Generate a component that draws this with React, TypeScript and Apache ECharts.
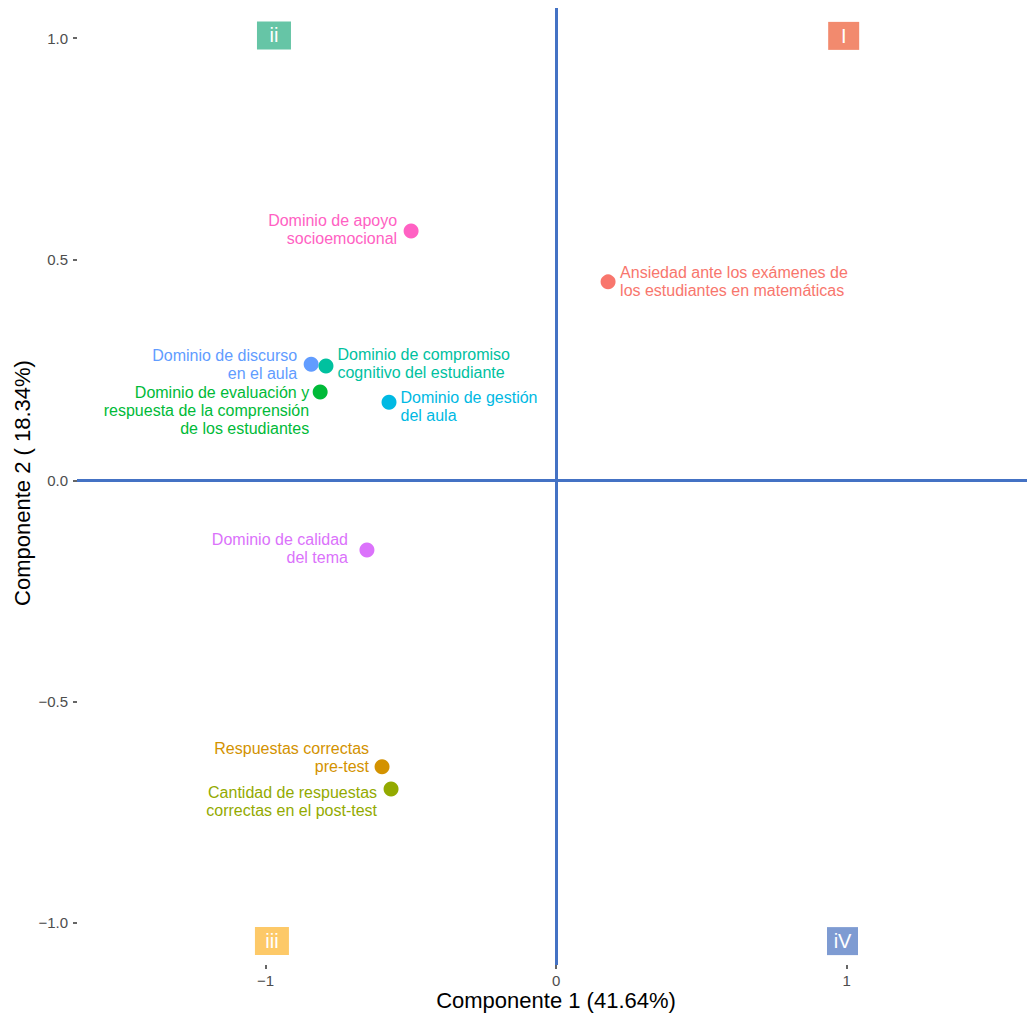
import React, { useEffect, useRef } from "react";
import * as echarts from "echarts";

// ---- data ----
const variables = [
  "Ansiedad ante los exámenes de\nlos estudiantes en matemáticas",
  "Dominio de apoyo\nsocioemocional",
  "Dominio de discurso\nen el aula",
  "Dominio de compromiso\ncognitivo del estudiante",
  "Dominio de evaluación y\nrespuesta de la comprensión\nde los estudiantes",
  "Dominio de gestión\ndel aula",
  "Dominio de calidad\ndel tema",
  "Respuestas correctas\npre-test",
  "Cantidad de respuestas\ncorrectas en el post-test",
];
const comp1 = [0.179, -0.499, -0.843, -0.792, -0.812, -0.575, -0.651, -0.599, -0.568];
const comp2 = [0.449, 0.564, 0.263, 0.259, 0.2, 0.177, -0.157, -0.647, -0.697];

const quadrantNames = ["I", "ii", "iii", "iV"];
const quadrantX = [0.99, -0.971, -0.978, 0.986];
const quadrantY = [1.005, 1.006, -1.041, -1.041];

const yTicks = [-1, -0.5, 0, 0.5, 1];
const xTicks = [-1, 0, 1];

// ---- styles / layout ----
const pointColors = [
  "#F8766D", "#FF61C3", "#619CFF", "#00C19F", "#00BA38",
  "#00B9E3", "#DB72FB", "#D39200", "#93AA00",
];
// side, distance from symbol edge, vertical offset
const labelSide = ["right", "left", "left", "right", "left", "right", "left", "left", "left"];
const labelDist = [4.5, 6.5, 6.5, 4, 3.5, 4, 11.5, 5.5, 6.5];
const labelDy = [0, -1, 0, -2, 18, 4.5, -1.5, -9, 12.5];

const quadColors = ["#F28A6E", "#66C5A6", "#FDC968", "#7E9BD2"];
const quadWidths = [31, 34, 34, 31];

const FONT = "'Liberation Sans', Arial, Helvetica, sans-serif";
const minus = (s: string) => s.replace("-", "\u2212");

export default function App() {
  const ref = useRef<HTMLDivElement>(null);
  useEffect(() => {
    if (!ref.current) return;
    const chart = echarts.init(ref.current, null, { renderer: "svg" });
    const pts = variables.map((name, i) => ({
      name,
      value: [comp1[i], comp2[i]],
      itemStyle: { color: pointColors[i], opacity: 1 },
      label: {
        show: true,
        formatter: name,
        position: labelSide[i],
        distance: labelDist[i],
        offset: [0, labelDy[i]],
        align: labelSide[i] === "left" ? "right" : "left",
        color: pointColors[i],
        fontSize: 16,
        lineHeight: 18,
        fontFamily: FONT,
      },
    }));
    const quads = quadrantNames.map((n, i) => ({
      name: n,
      value: [quadrantX[i], quadrantY[i]],
      symbolSize: [quadWidths[i], 28],
      itemStyle: { color: quadColors[i], opacity: 1 },
    }));
    chart.setOption({
      animation: false,
      backgroundColor: "#ffffff",
      grid: { left: 77, right: 0, top: 8, bottom: 50 },
      xAxis: {
        type: "value",
        min: -1.649,
        max: 1.621,
        splitLine: { show: false },
        axisLine: { show: false, onZero: false },
        axisTick: { show: true, length: 4, customValues: xTicks, lineStyle: { color: "#333333", width: 1.5 } },
        axisLabel: {
          customValues: xTicks,
          formatter: (v: number) => minus(String(v)),
          color: "#4D4D4D",
          fontSize: 15,
          fontFamily: FONT,
          margin: 8,
        },
      },
      yAxis: {
        type: "value",
        min: -1.095,
        max: 1.068,
        splitLine: { show: false },
        axisLine: { show: false, onZero: false },
        axisTick: { show: true, length: 4, customValues: yTicks, lineStyle: { color: "#333333", width: 1.5 } },
        axisLabel: {
          customValues: yTicks,
          formatter: (v: number) => minus(v.toFixed(1)),
          color: "#4D4D4D",
          fontSize: 15,
          fontFamily: FONT,
          margin: 9,
        },
      },
      graphic: [
        {
          type: "text",
          x: 556,
          y: 1000,
          style: {
            text: "Componente 1 (41.64%)",
            font: `22px ${FONT}`,
            fill: "#000000",
            align: "center",
            verticalAlign: "middle",
          },
        },
        {
          type: "text",
          x: 22,
          y: 483,
          rotation: Math.PI / 2,
          style: {
            text: "Componente 2 ( 18.34%)",
            font: `22px ${FONT}`,
            fill: "#000000",
            align: "center",
            verticalAlign: "middle",
          },
        },
      ],
      series: [
        {
          type: "scatter",
          symbolSize: 15,
          data: pts,
          z: 3,
          markLine: {
            silent: true,
            symbol: "none",
            label: { show: false },
            lineStyle: { color: "#4472C4", width: 3, type: "solid" },
            data: [{ xAxis: 0 }, { yAxis: 0 }],
          },
        },
        {
          type: "scatter",
          symbol: "rect",
          data: quads,
          z: 4,
          label: {
            show: true,
            position: "inside",
            formatter: "{b}",
            color: "#ffffff",
            fontSize: 20,
            fontFamily: FONT,
          },
        },
      ],
    });
    return () => chart.dispose();
  }, []);
  return (
    <div
      ref={ref}
      style={{ position: "absolute", left: 0, top: 0, width: 1027, height: 1015 }}
    />
  );
}
